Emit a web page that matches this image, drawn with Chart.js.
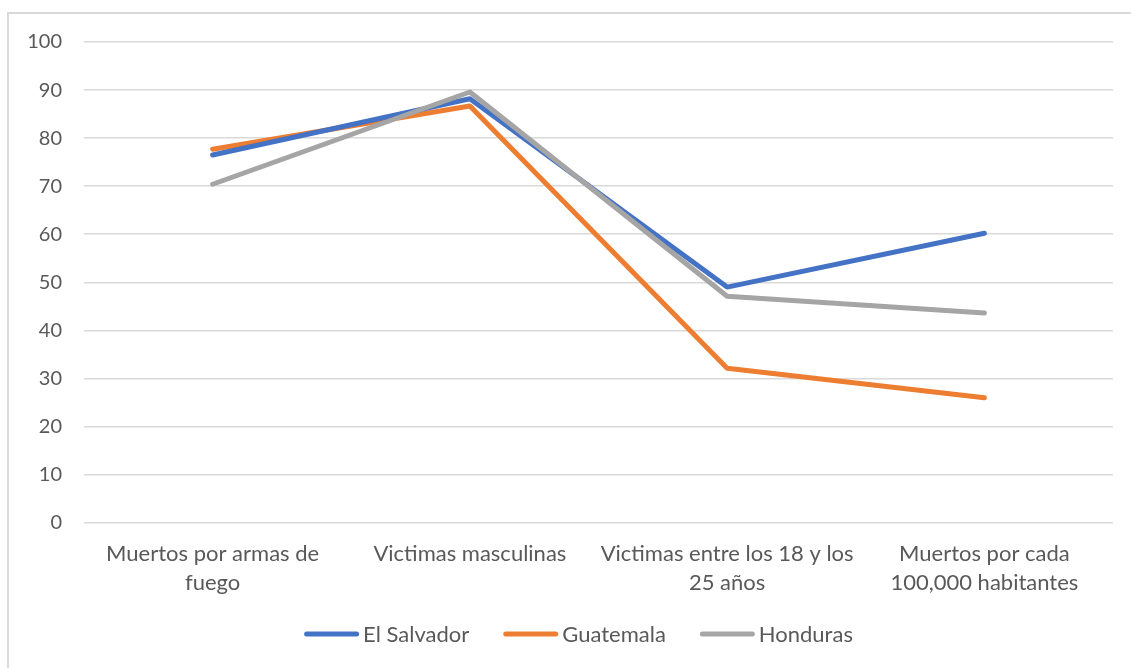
<!DOCTYPE html>
<html>
<head>
<meta charset="utf-8">
<script src="https://cdn.jsdelivr.net/npm/chart.js@4.4.1/dist/chart.umd.min.js"></script>
<style>
  html, body { margin: 0; padding: 0; background: #fff; overflow: hidden; }
  #wrap { position: absolute; left: 0; top: 0; width: 1131px; height: 668px; }
</style>
</head>
<body>
<div id="wrap"><canvas id="chart"></canvas></div>
<script>
// categories + series
const categories = [
  ["Muertos por armas de", "fuego"],
  "Victimas masculinas",
  ["Victimas entre los 18 y los", "25 años"],
  ["Muertos por cada", "100,000 habitantes"]
];
const elSalvador = [76.5, 88.2, 49, 60.2];
const guatemala  = [77.7, 86.7, 32.1, 26];
const honduras   = [70.4, 89.6, 47.1, 43.6];

const TEXT = "#595959";
const FONT = "Lato, 'Open Sans', sans-serif";

// light frame round the chart (only top/left edges are visible)
const frame = {
  id: "frame",
  beforeDraw(c){
    const ctx = c.ctx;
    ctx.save();
    ctx.strokeStyle = "#d9d9d9";
    ctx.lineWidth = 2;
    ctx.strokeRect(8, 13, 1300, 900);
    ctx.restore();
  }
};

// Excel-style legend: short thick line, tight gap, text — centred under the plot
const excelLegend = {
  id: "excelLegend",
  afterDraw(c){
    const ctx = c.ctx;
    const sw = 55, gap = 4, spacing = 34, y = 634;
    ctx.save();
    ctx.font = `22px ${FONT}`;
    ctx.textBaseline = "middle";
    const items = c.data.datasets.map(d => ({ d, w: ctx.measureText(d.label).width }));
    const total = items.reduce((s, it) => s + sw + gap + it.w, 0) + spacing * (items.length - 1);
    let x = 578.5 - total / 2;
    items.forEach(({ d, w }) => {
      ctx.strokeStyle = d.borderColor;
      ctx.lineWidth = 5;
      ctx.lineCap = "round";
      ctx.beginPath();
      ctx.moveTo(x + 2.5, y);
      ctx.lineTo(x + sw - 2.5, y);
      ctx.stroke();
      ctx.fillStyle = TEXT;
      ctx.fillText(d.label, x + sw + gap, y + 1);
      x += sw + gap + w + spacing;
    });
    ctx.restore();
  }
};

function line(label, data, color, order){
  return {
    label, data, order,
    borderColor: color,
    backgroundColor: color,
    borderWidth: 5,
    borderCapStyle: "round",
    borderJoinStyle: "round",
    pointRadius: 0,
    tension: 0,
    fill: false
  };
}

new Chart(document.getElementById("chart"), {
  type: "line",
  data: {
    labels: categories,
    datasets: [
      line("El Salvador", elSalvador, "#4472C4", 2),
      line("Guatemala", guatemala, "#ED7D31", 3),
      line("Honduras", honduras, "#A5A5A5", 1)
    ]
  },
  options: {
    responsive: true,
    maintainAspectRatio: false,
    animation: false,
    layout: { padding: { top: 42, left: 24, right: 18, bottom: 62 } },
    plugins: {
      tooltip: { enabled: false },
      legend: { display: false }
    },
    scales: {
      x: {
        offset: true,
        grid: { display: false },
        border: { display: false },
        ticks: {
          color: TEXT,
          font: { family: FONT, size: 22, lineHeight: 1.35 },
          padding: 8,
          maxRotation: 0,
          autoSkip: false
        }
      },
      y: {
        min: 0, max: 100,
        afterFit: s => { s.width = 60; },
        grid: { color: "#d9d9d9", lineWidth: 1.5, drawTicks: false },
        border: { display: false },
        ticks: {
          stepSize: 10,
          color: TEXT,
          font: { family: FONT, size: 20 },
          padding: 22
        }
      }
    }
  },
  plugins: [frame, excelLegend]
});
</script>
</body>
</html>
